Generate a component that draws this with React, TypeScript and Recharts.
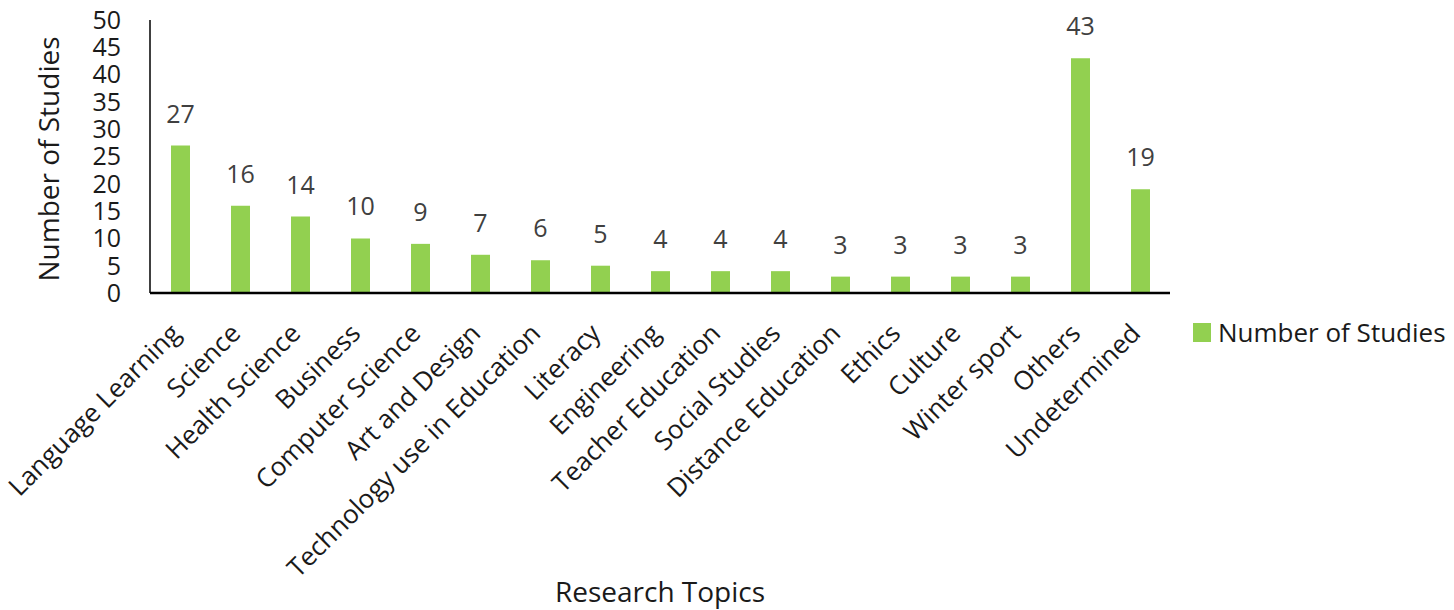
import React from 'react';
import { BarChart, Bar, XAxis, YAxis, LabelList, Label } from 'recharts';

const topics = [
  'Language Learning', 'Science', 'Health Science', 'Business', 'Computer Science',
  'Art and Design', 'Technology use in Education', 'Literacy', 'Engineering',
  'Teacher Education', 'Social Studies', 'Distance Education', 'Ethics', 'Culture',
  'Winter sport', 'Others', 'Undetermined',
];
const studies = [27, 16, 14, 10, 9, 7, 6, 5, 4, 4, 4, 3, 3, 3, 3, 43, 19];
const yTicks = [0, 5, 10, 15, 20, 25, 30, 35, 40, 45, 50];

const data = topics.map((t, i) => ({ topic: t, count: studies[i] }));

const FONT = '"Open Sans", sans-serif';
const GREEN = '#92D050';

const TopicTick: React.FC<any> = ({ x, y, payload }) => (
  <g transform={`translate(${x + 2},${y + 40})`}>
    <text x={0} y={0} textAnchor="end" transform="rotate(-45)" fontSize={26} fill="#1a1a1a" fontFamily={FONT}>
      {payload.value}
    </text>
  </g>
);

export default function App() {
  return (
    <div style={{ position: 'absolute', left: 0, top: 0, width: 1454, height: 610, background: '#fff' }}>
      <BarChart width={1454} height={610} data={data} margin={{ top: 20, right: 284, bottom: 0, left: 0 }}>
        <XAxis
          dataKey="topic"
          interval={0}
          height={317}
          tickLine={false}
          tickSize={0}
          axisLine={{ stroke: '#000', strokeWidth: 2.5 }}
          tick={<TopicTick />}
        >
          <Label
            content={() => (
              <text x={660} y={602} textAnchor="middle" fontSize={28} fill="#1a1a1a" fontFamily={FONT}>
                Research Topics
              </text>
            )}
          />
        </XAxis>
        <YAxis
          width={150}
          domain={[0, 50]}
          ticks={yTicks}
          interval={0}
          tickLine={false}
          tickSize={0}
          tickMargin={29}
          axisLine={{ stroke: '#000', strokeWidth: 1.5 }}
          tick={{ fontSize: 25, fill: '#1a1a1a', fontFamily: FONT }}
        >
          <Label
            content={() => (
              <text
                x={48}
                y={159}
                textAnchor="middle"
                dominantBaseline="central"
                transform="rotate(-90, 48, 159)"
                fontSize={28}
                fill="#1a1a1a"
                fontFamily={FONT}
              >
                Number of Studies
              </text>
            )}
          />
        </YAxis>
        <Bar dataKey="count" name="Number of Studies" fill={GREEN} barSize={19} isAnimationActive={false}>
          <LabelList dataKey="count" position="top" offset={23} fontSize={25} fill="#404040" fontFamily={FONT} />
        </Bar>
      </BarChart>
      <div
        style={{
          position: 'absolute', left: 1193, top: 314, display: 'flex', alignItems: 'center',
          fontFamily: FONT, fontSize: 26, color: '#1a1a1a', whiteSpace: 'nowrap',
        }}
      >
        <span style={{ width: 18, height: 19, background: GREEN, display: 'inline-block', marginRight: 7 }} />
        <span>Number of Studies</span>
      </div>
    </div>
  );
}
